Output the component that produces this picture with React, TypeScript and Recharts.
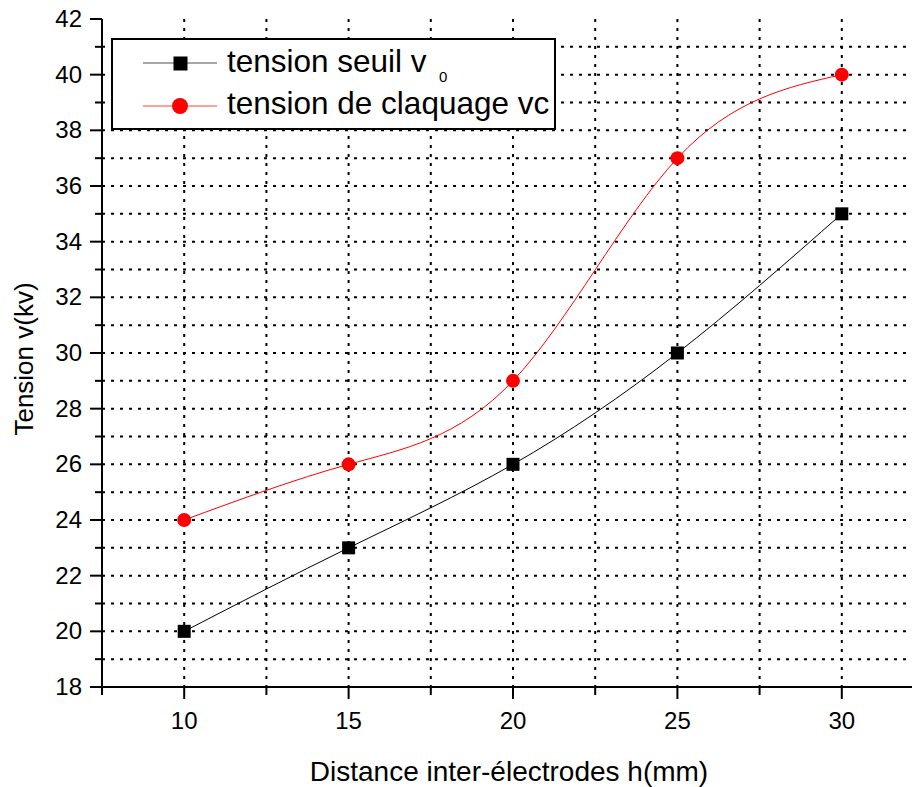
import { LineChart, Line, XAxis, YAxis, CartesianGrid, Legend, Label } from 'recharts';

// inter-electrode distance h (mm)
const distances = [10, 15, 20, 25, 30];
// threshold voltage v0 (kV)
const seuil = [20, 23, 26, 30, 35];
// breakdown voltage vc (kV)
const claquage = [24, 26, 29, 37, 40];

const xTicks = [7.5, 10, 12.5, 15, 17.5, 20, 22.5, 25, 27.5, 30, 32.5];
const yTicks = [18, 19, 20, 21, 22, 23, 24, 25, 26, 27, 28, 29, 30, 31, 32, 33, 34, 35, 36, 37, 38, 39, 40, 41, 42];
const gridX = [10, 12.5, 15, 17.5, 20, 22.5, 25, 27.5, 30];
const gridY = [19, 20, 21, 22, 23, 24, 25, 26, 27, 28, 29, 30, 31, 32, 33, 34, 35, 36, 37, 38, 39, 40, 41];

const data = distances.map((h, i) => ({ h, v0: seuil[i], vc: claquage[i] }));

const FONT = '"Liberation Sans", Arial, sans-serif';

const BottomTick = (props: any) => {
    const { x, y, payload } = props;
    const major = payload.value % 5 === 0;
    return (
        <g>
            <line x1={x} x2={x} y1={y} y2={y + (major ? 12 : 8)} stroke="#000" strokeWidth={2} />
            {major && (
                <text x={x} y={y + 42} textAnchor="middle" fontSize={24} fontFamily={FONT} fill="#000">
                    {payload.value}
                </text>
            )}
        </g>
    );
};

const TopTick = (props: any) => {
    const { x, y, payload } = props;
    const major = payload.value % 5 === 0;
    return <line x1={x} x2={x} y1={y} y2={y + (major ? 13 : 7)} stroke="#000" strokeWidth={2} />;
};

const LeftTick = (props: any) => {
    const { x, y, payload } = props;
    const major = payload.value % 2 === 0;
    return (
        <g>
            <line x1={x - (major ? 12 : 7)} x2={x} y1={y} y2={y} stroke="#000" strokeWidth={2} />
            {major && (
                <text x={x - 20} y={y + 8} textAnchor="end" fontSize={24} fontFamily={FONT} fill="#000">
                    {payload.value}
                </text>
            )}
        </g>
    );
};

const SquareDot = (props: any) => {
    const { cx, cy, index } = props;
    return <rect key={`sq-${index}`} x={cx - 6.5} y={cy - 6.5} width={13} height={13} fill="#000" />;
};

const CircleDot = (props: any) => {
    const { cx, cy, index } = props;
    return <circle key={`ci-${index}`} cx={cx} cy={cy} r={7} fill="#ff0000" />;
};

const LegendBox = () => (
    <div
        style={{
            width: 445,
            height: 92,
            border: '2px solid #000',
            background: '#fff',
            boxSizing: 'border-box',
            position: 'relative',
        }}
    >
        <svg width={441} height={88} style={{ position: 'absolute', left: 0, top: 0 }}>
            <line x1={30} x2={104} y1={23} y2={23} stroke="#888" strokeWidth={1.5} />
            <rect x={60.5} y={16.5} width={14} height={14} fill="#000" />
            <text x={114} y={32} fontSize={31.5} fontFamily={FONT} fill="#000">
                tension seuil v
            </text>
            <text x={326} y={42} fontSize={15} fontFamily={FONT} fill="#000">
                0
            </text>
            <line x1={30} x2={104} y1={66} y2={66} stroke="#ff8080" strokeWidth={1.5} />
            <circle cx={67} cy={66} r={8} fill="#ff0000" />
            <text x={114} y={74} fontSize={31.5} fontFamily={FONT} fill="#000">
                tension de claquage vc
            </text>
        </svg>
    </div>
);

export default function App() {
    return (
        <div style={{ position: 'absolute', left: 0, top: 0, width: 912, height: 787, overflow: 'hidden', background: '#fff' }}>
            <LineChart width={930} height={787} data={data} margin={{ top: 19, right: 6, bottom: 0, left: 0 }}>
                <CartesianGrid
                    horizontalValues={gridY}
                    verticalValues={gridX}
                    stroke="#000"
                    strokeWidth={2}
                    strokeDasharray="3 6"
                />
                <XAxis
                    dataKey="h"
                    type="number"
                    domain={[7.5, 32.5]}
                    ticks={xTicks}
                    interval={0}
                    height={100}
                    tickSize={0}
                    tickMargin={0}
                    tick={<BottomTick />}
                    axisLine={{ stroke: '#000', strokeWidth: 2 }}
                    allowDataOverflow
                >
                    <Label
                        content={(p: any) => {
                            const vb = p.viewBox;
                            return (
                                <text x={vb.x + vb.width / 2 - 4} y={781} textAnchor="middle" fontSize={28} fontFamily={FONT} fill="#000">
                                    Distance inter-électrodes h(mm)
                                </text>
                            );
                        }}
                    />
                </XAxis>
                <XAxis
                    xAxisId="top"
                    orientation="top"
                    dataKey="h"
                    type="number"
                    domain={[7.5, 32.5]}
                    ticks={xTicks}
                    interval={0}
                    height={0}
                    tickSize={0}
                    tickMargin={0}
                    tick={<TopTick />}
                    axisLine={{ stroke: '#000', strokeWidth: 2 }}
                    allowDataOverflow
                />
                <YAxis
                    type="number"
                    domain={[18, 42]}
                    ticks={yTicks}
                    interval={0}
                    width={102}
                    tickSize={0}
                    tickMargin={0}
                    tick={<LeftTick />}
                    axisLine={{ stroke: '#000', strokeWidth: 2 }}
                    allowDataOverflow
                >
                    <Label
                        content={(p: any) => {
                            const vb = p.viewBox;
                            const cy = vb.y + vb.height / 2 + 6;
                            return (
                                <text
                                    x={33}
                                    y={cy}
                                    transform={`rotate(-90 33 ${cy})`}
                                    textAnchor="middle"
                                    fontSize={26}
                                    fontFamily={FONT}
                                    fill="#000"
                                >
                                    Tension v(kv)
                                </text>
                            );
                        }}
                    />
                </YAxis>
                <Legend
                    layout="vertical"
                    align="center"
                    verticalAlign="middle"
                    content={() => <LegendBox />}
                    wrapperStyle={{ left: 111, top: 38, width: 445, height: 92 }}
                />
                <Line
                    dataKey="v0"
                    name="tension seuil v0"
                    type="natural"
                    stroke="#000"
                    strokeWidth={1}
                    dot={SquareDot}
                    activeDot={false}
                    isAnimationActive={false}
                />
                <Line
                    dataKey="vc"
                    name="tension de claquage vc"
                    type="natural"
                    stroke="#ff0000"
                    strokeWidth={1}
                    dot={CircleDot}
                    activeDot={false}
                    isAnimationActive={false}
                />
            </LineChart>
        </div>
    );
}
